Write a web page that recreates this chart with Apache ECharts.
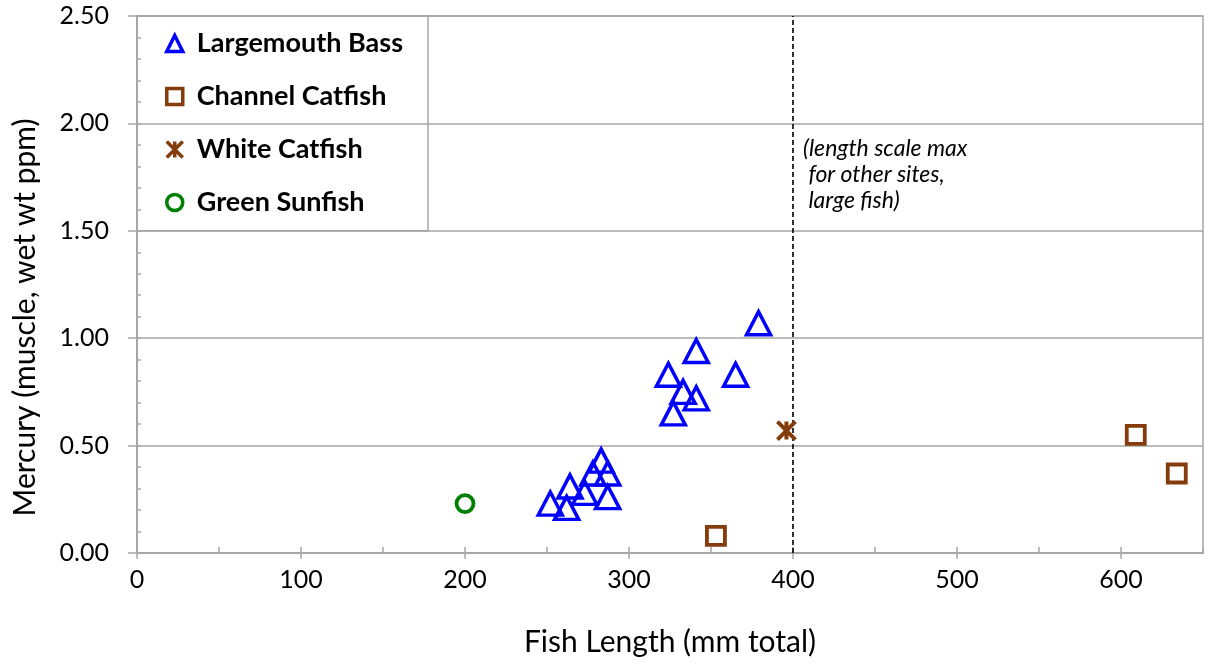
<!DOCTYPE html>
<html>
<head>
<meta charset="utf-8">
<title>Mercury vs Fish Length</title>
<script src="https://cdn.jsdelivr.net/npm/echarts@6/dist/echarts.min.js"></script>
<style>
  html, body { margin: 0; padding: 0; background: #fff; }
  #chart { width: 1209px; height: 664px; }
</style>
</head>
<body>
<div id="chart"></div>
<script>
// Fish length (mm total) and muscle mercury (ppm wet wt), one pair of arrays per species
const bassLength     = [252, 262, 264, 273, 278, 283, 287, 287, 324, 327, 333, 341, 341, 365, 379];
const bassHg         = [0.23, 0.21, 0.31, 0.28, 0.37, 0.43, 0.37, 0.26, 0.83, 0.65, 0.75, 0.72, 0.94, 0.83, 1.07];
const channelLength  = [353, 609, 634];
const channelHg      = [0.08, 0.55, 0.37];
const whiteLength    = [396];
const whiteHg        = [0.57];
const sunfishLength  = [200];
const sunfishHg      = [0.23];

const speciesNames = ['Largemouth Bass', 'Channel Catfish', 'White Catfish', 'Green Sunfish'];
const xTickValues  = [0, 100, 200, 300, 400, 500, 600];
const xMinorValues = [0, 50, 100, 150, 200, 250, 300, 350, 400, 450, 500, 550, 600, 650];
const lengthScaleMax = 400;
const noteText = '(length scale max\n for other sites,\n large fish)';

const pairs = (xs, ys) => xs.map((x, i) => [x, ys[i]]);

const FONT = 'Lato, "Open Sans", sans-serif';
const AXIS_GRAY = '#a6a6a6';
const BLUE = '#0000ff';
const BROWN = '#843c0c';
const GREEN = '#008000';
const asteriskPath = 'path://M0,0L10,10M10,0L0,10M5,0L5,10';

const chart = echarts.init(document.getElementById('chart'), null, { renderer: 'canvas' });

const hollow = (c, w) => ({ color: 'rgba(0,0,0,0)', borderColor: c, borderWidth: w, opacity: 1 });

const option = {
  animation: false,
  backgroundColor: '#ffffff',
  textStyle: { fontFamily: FONT },
  grid: {
    left: 137, right: 6, top: 16, bottom: 111,
    show: true, borderColor: AXIS_GRAY, borderWidth: 1.5, backgroundColor: 'transparent'
  },
  legend: {
    orient: 'vertical',
    left: 165, top: 28,
    itemWidth: 16, itemHeight: 16,
    itemGap: 22,
    padding: 0,
    itemStyle: { borderWidth: 3.5, opacity: 1 },
    textStyle: { fontFamily: FONT, fontWeight: 'bold', fontSize: 27, color: '#000', padding: [0, 0, 0, 9], lineHeight: 31 },
    data: speciesNames
  },
  xAxis: [{
    type: 'value', min: 0, max: 650, interval: 50,
    axisLine: { show: true, onZero: false, lineStyle: { color: AXIS_GRAY, width: 2 } },
    axisTick: { show: true, inside: false, length: 6, customValues: xTickValues, lineStyle: { color: AXIS_GRAY, width: 1.5 } },
    axisLabel: { customValues: xTickValues, fontSize: 25, color: '#000', margin: 14, fontFamily: FONT },
    splitLine: { show: false },
    name: 'Fish Length (mm total)', nameLocation: 'middle', nameGap: 74,
    nameTextStyle: { fontSize: 30, color: '#000', fontFamily: FONT }
  }, {
    type: 'value', min: 0, max: 650, position: 'bottom',
    axisLine: { show: false },
    axisTick: { show: true, inside: true, length: 6, customValues: xMinorValues, lineStyle: { color: AXIS_GRAY, width: 1.5 } },
    axisLabel: { show: false },
    splitLine: { show: false }
  }],
  yAxis: [{
    type: 'value', min: 0, max: 2.5, interval: 0.5,
    axisLine: { show: true, onZero: false, lineStyle: { color: AXIS_GRAY, width: 2 } },
    axisTick: { show: true, inside: false, length: 9, lineStyle: { color: AXIS_GRAY, width: 1.5 } },
    axisLabel: { fontSize: 25, color: '#000', margin: 28, fontFamily: FONT, formatter: v => v.toFixed(2) },
    splitLine: { show: true, lineStyle: { color: AXIS_GRAY, width: 1.5 } },
    name: 'Mercury (muscle, wet wt ppm)', nameLocation: 'middle', nameGap: 97,
    nameTextStyle: { fontSize: 30, color: '#000', fontFamily: FONT, padding: [0, 66, 0, 0] }
  }, {
    type: 'value', min: 0, max: 2.5, interval: 0.1, position: 'left',
    axisLine: { show: false },
    axisTick: { show: true, inside: true, length: 4, lineStyle: { color: AXIS_GRAY, width: 1.5 } },
    axisLabel: { show: false },
    splitLine: { show: false }
  }],
  series: [{
    name: speciesNames[0], type: 'scatter', symbol: 'triangle', symbolSize: [24, 23],
    itemStyle: hollow(BLUE, 3.5),
    data: pairs(bassLength, bassHg), z: 5
  }, {
    name: speciesNames[1], type: 'scatter', symbol: 'rect', symbolSize: 18,
    itemStyle: hollow(BROWN, 3.8),
    data: pairs(channelLength, channelHg), z: 5
  }, {
    name: speciesNames[2], type: 'scatter', symbol: asteriskPath, symbolSize: 18,
    itemStyle: hollow(BROWN, 4),
    data: pairs(whiteLength, whiteHg), z: 5,
    markLine: {
      silent: true, symbol: 'none', label: { show: false },
      lineStyle: { color: '#000', width: 1.6, type: [5, 3] },
      data: [{ xAxis: lengthScaleMax }]
    }
  }, {
    name: speciesNames[3], type: 'scatter', symbol: 'circle', symbolSize: 17,
    itemStyle: hollow(GREEN, 3.8),
    data: pairs(sunfishLength, sunfishHg), z: 5
  }]
};

chart.setOption(option);

// Legend frame and the note beside the dashed line, placed from the axis scales
const gridTopLeft = chart.convertToPixel({ gridIndex: 0 }, [0, 2.5]);
const frameBottom = chart.convertToPixel({ gridIndex: 0 }, [0, 1.5]);
const notePos = chart.convertToPixel({ gridIndex: 0 }, [lengthScaleMax, 1.945]);

chart.setOption({
  graphic: [{
    type: 'rect', z: 10, silent: true,
    shape: { x: gridTopLeft[0], y: gridTopLeft[1], width: 291, height: frameBottom[1] - gridTopLeft[1] },
    style: { fill: 'none', stroke: AXIS_GRAY, lineWidth: 1.5 }
  }, {
    type: 'text', z: 10, silent: true,
    x: notePos[0] + 10, y: notePos[1],
    style: { text: noteText, font: 'italic 23px ' + FONT, fill: '#000', lineHeight: 26 }
  }]
});
</script>
</body>
</html>
